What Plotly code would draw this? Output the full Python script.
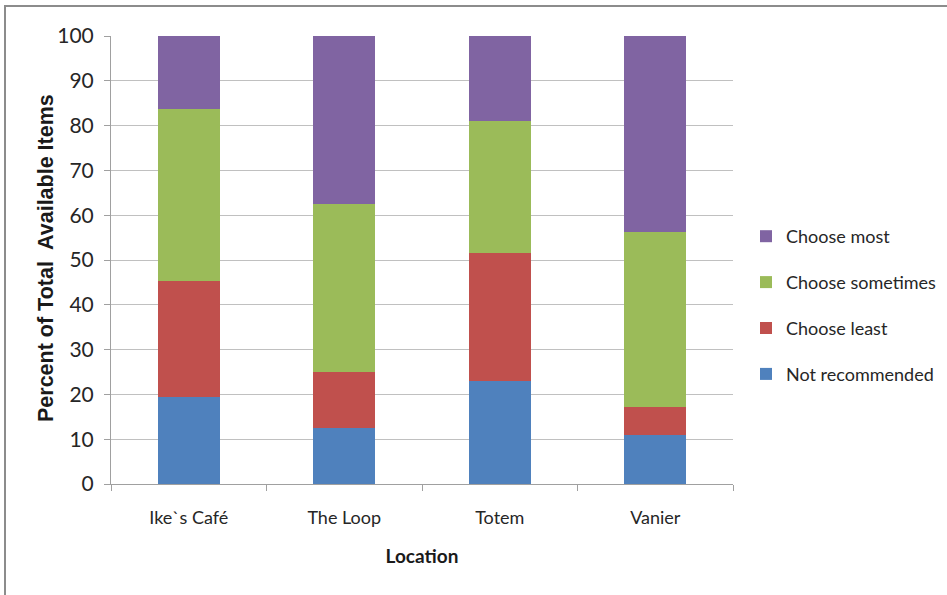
import plotly.graph_objects as go

locations = ["Ike`s Café", "The Loop", "Totem", "Vanier"]
not_recommended = [19.5, 12.5, 23.0, 11.0]
choose_least = [25.8, 12.5, 28.5, 6.3]
choose_sometimes = [38.4, 37.5, 29.5, 39.0]
choose_most = [16.3, 37.5, 19.0, 43.7]

series = [
    ("Not recommended", not_recommended, "#4F81BD", 4),
    ("Choose least", choose_least, "#C0504D", 3),
    ("Choose sometimes", choose_sometimes, "#9BBB59", 2),
    ("Choose most", choose_most, "#8064A2", 1),
]

FONT = "Lato, sans-serif"
WIDE = "Liberation Sans, Arial, sans-serif"
TXT = "#262626"

fig = go.Figure()
for name, vals, color, rank in series:
    fig.add_trace(go.Bar(
        x=locations, y=vals, name=name, legendgroup=name, legendrank=rank,
        marker=dict(color=color, line=dict(width=0)),
    ))

fig.update_layout(
    barmode="stack",
    bargap=0.6,
    width=947, height=595,
    margin=dict(l=111, r=214, t=36, b=111),
    paper_bgcolor="white",
    plot_bgcolor="white",
    font=dict(family=FONT, size=18, color=TXT),
    showlegend=True,
    legend=dict(
        xref="container", yref="container",
        x=746 / 947, y=1 - 218 / 595, xanchor="left", yanchor="top",
        traceorder="grouped",
        tracegroupgap=19.5,
        font=dict(family=FONT, size=18, color=TXT),
        itemwidth=30,
        bgcolor="rgba(0,0,0,0)",
    ),
    xaxis=dict(
        title=dict(text="<b>Location</b>", font=dict(family=FONT, size=19, color="#1a1a1a"), standoff=23),
        showgrid=False,
        showline=True, linecolor="#a0a0a0", linewidth=1,
        ticks="outside", ticklen=6, tickcolor="#a0a0a0",
        tickson="boundaries",
        ticklabelstandoff=17,
        tickfont=dict(family=FONT, size=18, color=TXT),
    ),
    yaxis=dict(
        range=[0, 100], dtick=10,
        showgrid=True, gridcolor="#c0c0c0", gridwidth=1,
        showline=True, linecolor="#a0a0a0", linewidth=1,
        ticks="outside", ticklen=6, tickcolor="#a0a0a0",
        ticklabelstandoff=6,
        tickfont=dict(family=FONT, size=21, color=TXT),
        zeroline=False,
    ),
    annotations=[
        dict(text="<b>Percent of Total  Available Items</b>", xref="paper", yref="paper",
             x=(46 - 111) / 622, y=(484 - 258) / 448, xanchor="center", yanchor="middle",
             textangle=-90, showarrow=False,
             font=dict(family=WIDE, size=21.5, color="#1a1a1a")),
    ],
    shapes=[
        dict(type="rect", xref="paper", yref="paper",
             x0=(5 - 111) / 622, x1=1.5, y0=-0.5, y1=(484 - 6) / 448,
             line=dict(color="#8c8c8c", width=2), fillcolor="rgba(0,0,0,0)", layer="below"),
    ],
)

fig.write_html("out.html")
